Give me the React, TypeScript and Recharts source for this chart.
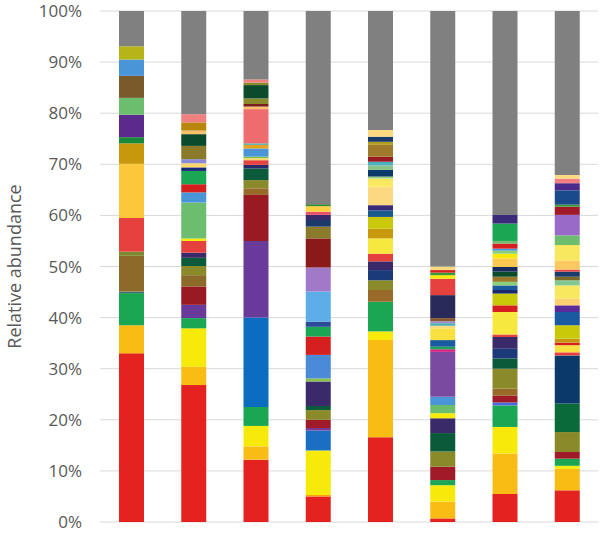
import { Bar, BarChart, CartesianGrid, Cell, XAxis, YAxis } from "recharts";

// segment values per sample, bottom to top (% relative abundance)
const sampleNames = ["S1", "S2", "S3", "S4", "S5", "S6", "S7", "S8"];

const s1Values = [33.0, 5.5, 6.3, 0.3, 7.0, 0.8, 6.6, 10.6, 4.0, 1.2, 4.4, 3.3, 4.3, 3.2, 2.6, 6.9];
const s1Colors = ["#e42320", "#f9bc15", "#1aa653", "#4a6a7a", "#8b6a2a", "#7a8a2a", "#e6403f", "#fcc73a", "#c8980c", "#188a3a", "#5b2a8a", "#6dbd6e", "#7a5a2a", "#4a95d8", "#b5b51a", "#808080"];

const s2Values = [26.8, 3.6, 7.5, 2.0, 2.6, 3.6, 2.2, 1.8, 1.6, 1.0, 2.3, 0.5, 7.0, 2.0, 1.6, 2.6, 0.7, 0.8, 0.8, 2.6, 2.3, 0.7, 1.6, 1.6, 20.2];
const s2Colors = ["#e42320", "#f9bc15", "#f7ea0b", "#1aa653", "#6a3a9a", "#9a1a24", "#8b6a2a", "#8a8a2a", "#0b5a3a", "#3a2a6a", "#e6403f", "#f7ea0b", "#6dbd6e", "#4a95d8", "#d62020", "#1aa653", "#1a2a7a", "#fcd86a", "#8a8ad9", "#8a7a2a", "#0b4a2a", "#fcc06a", "#b8860b", "#f08080", "#808080"];

const s3Values = [12.2, 2.6, 4.0, 3.7, 17.5, 15.0, 9.0, 1.3, 1.6, 2.3, 0.7, 0.9, 0.4, 0.3, 1.6, 0.7, 0.3, 6.7, 0.5, 0.5, 1.1, 2.6, 0.5, 0.6, 13.4];
const s3Colors = ["#e42320", "#f9bc15", "#f7ea0b", "#1aa653", "#0b6cc0", "#6a3a9a", "#9a1a24", "#9a6a2a", "#8a8a2a", "#0b5a3a", "#2a2a6a", "#e6403f", "#fcd86a", "#7ac04a", "#4a95d8", "#e8a020", "#4ab0b0", "#ee6b6e", "#fcc06a", "#7a1a1a", "#8a8a2a", "#0b4a2a", "#8a8a2a", "#f08080", "#808080"];

const s4Values = [5.0, 0.3, 8.7, 3.9, 0.5, 1.6, 1.9, 0.8, 4.8, 0.6, 4.6, 3.6, 1.9, 1.0, 5.9, 4.7, 5.7, 2.3, 1.3, 1.0, 0.6, 1.1, 0.4, 37.8];
const s4Colors = ["#e42320", "#f9a015", "#f7ea0b", "#1b6fc2", "#7a3a9a", "#a01a2a", "#8a8a2a", "#0b5a3a", "#3a2a6a", "#8ac04a", "#4a8ad6", "#d62020", "#1aa653", "#2a4a9a", "#5cade8", "#a07ac9", "#8a1a1a", "#8a7a2a", "#1a3a6a", "#3a2a6a", "#e8506a", "#fcd040", "#3a8a3a", "#808080"];

const s5Values = [16.6, 19.0, 1.7, 5.8, 2.3, 1.9, 2.0, 1.7, 1.5, 3.0, 1.9, 2.3, 1.3, 1.0, 3.6, 1.6, 0.4, 1.3, 0.9, 0.7, 1.0, 2.3, 0.6, 1.0, 1.3, 23.3];
const s5Colors = ["#e42320", "#f9bc15", "#f7ea0b", "#1aa653", "#9a6a2a", "#8a8a2a", "#1a3a7a", "#3a2a6a", "#e6403f", "#f7e840", "#c8980c", "#c9c90a", "#1a5a8a", "#3a2a7a", "#fcd880", "#fce860", "#9ad07a", "#0b3a6a", "#8ac08a", "#4ab0c0", "#9a1a24", "#a07a2a", "#b0a020", "#1a3a6a", "#fcd880", "#808080"];

const s6Values = [0.7, 3.3, 3.2, 1.0, 2.6, 3.0, 3.6, 2.9, 1.0, 1.6, 1.6, 8.8, 0.5, 0.5, 1.3, 2.3, 0.5, 0.5, 0.4, 0.6, 4.5, 3.2, 0.7, 0.5, 0.5, 0.7, 50.0];
const s6Colors = ["#e42320", "#f9bc15", "#f7ea0b", "#1aa653", "#a01a2a", "#8a8a2a", "#0b5a3a", "#3a2a6a", "#f7ea0b", "#6dbd6e", "#4a95d8", "#7a4aa0", "#d62080", "#1aa653", "#1a5aa0", "#f7e040", "#fcd880", "#4ab0b0", "#a08ad0", "#8a5a2a", "#2a2a5a", "#e6403f", "#f7ea0b", "#3a9a3a", "#d62020", "#fcd880", "#808080"];

const s7Values = [5.5, 7.9, 5.2, 4.2, 0.6, 1.3, 1.4, 3.9, 2.0, 1.9, 2.3, 0.5, 4.4, 1.3, 2.3, 0.7, 0.9, 0.7, 1.0, 1.0, 0.9, 1.7, 0.9, 0.6, 0.4, 1.0, 0.5, 3.4, 1.7, 39.9];
const s7Colors = ["#e42320", "#f9bc15", "#f7ea0b", "#1aa653", "#4a6ad9", "#a01a2a", "#9a6a2a", "#8a8a2a", "#0b5a3a", "#1a3a7a", "#3a2a6a", "#e6403f", "#f7e840", "#d62020", "#c9c90a", "#1a2a6a", "#1a5aa0", "#8ad07a", "#9a7a2a", "#0b4a2a", "#1a2a5a", "#fcc850", "#f7ea0b", "#8ad07a", "#4a95d8", "#d62020", "#6dbd6e", "#1aa653", "#3a2a7a", "#808080"];

const s8Values = [6.2, 4.2, 0.6, 1.4, 1.3, 3.9, 5.6, 9.4, 0.6, 1.4, 0.5, 0.8, 2.6, 2.6, 1.3, 1.3, 2.6, 1.0, 0.7, 1.0, 0.4, 1.8, 3.0, 1.9, 4.0, 1.6, 0.4, 2.8, 1.4, 0.9, 0.7, 32.1];
const s8Colors = ["#e42320", "#f9bc15", "#f7ea0b", "#1aa653", "#a01a2a", "#8a8a2a", "#0b6a3a", "#0b3a6a", "#e6403f", "#f7e040", "#d62020", "#c8980c", "#c9c90a", "#1a5aa0", "#5a2a9a", "#fcd070", "#f8e860", "#80c890", "#7a6a2a", "#1a3a6a", "#e6403f", "#fcc860", "#f8e860", "#6dbd6e", "#9a6ac9", "#a01a2a", "#3a9a3a", "#1a4a8a", "#4a2a8a", "#f08080", "#fcd880", "#808080"];

const yTicks = [0, 10, 20, 30, 40, 50, 60, 70, 80, 90, 100];

const samples = [
	{ values: s1Values, colors: s1Colors },
	{ values: s2Values, colors: s2Colors },
	{ values: s3Values, colors: s3Colors },
	{ values: s4Values, colors: s4Colors },
	{ values: s5Values, colors: s5Colors },
	{ values: s6Values, colors: s6Colors },
	{ values: s7Values, colors: s7Colors },
	{ values: s8Values, colors: s8Colors },
];

const maxSegments = Math.max(...samples.map((s) => s.values.length));

const data = samples.map((s, i) => {
	const row: Record<string, string | number> = { name: sampleNames[i] };
	s.values.forEach((v, j) => {
		row[`seg${j}`] = v;
	});
	return row;
});

const font = "'Open Sans', 'Noto Sans', sans-serif";

export default function App() {
	return (
		<div style={{ position: "absolute", left: 0, top: 0, background: "#fff" }}>
			<BarChart
				width={600}
				height={538}
				data={data}
				margin={{ top: 11, right: 2, bottom: 16, left: 0 }}
				barSize={25}
			>
				<CartesianGrid vertical={false} stroke="#d9d9d9" />
				<XAxis dataKey="name" hide />
				<YAxis
					width={100}
					domain={[0, 100]}
					allowDataOverflow
					ticks={yTicks}
					tickFormatter={(v) => `${v}%`}
					axisLine={false}
					tickLine={false}
					tickSize={0}
					tickMargin={18}
					tick={{ fill: "#595959", fontSize: 17, fontFamily: font }}
					label={{
						value: "Relative abundance",
						angle: -90,
						position: "insideLeft",
						offset: 15,
						style: { textAnchor: "middle", fill: "#595959", fontSize: 18, fontFamily: font },
					}}
				/>
				{Array.from({ length: maxSegments }).map((_, j) => (
					<Bar key={j} dataKey={`seg${j}`} stackId="a" isAnimationActive={false}>
						{samples.map((s, i) => (
							<Cell key={i} fill={s.colors[j] ?? "none"} />
						))}
					</Bar>
				))}
			</BarChart>
		</div>
	);
}
